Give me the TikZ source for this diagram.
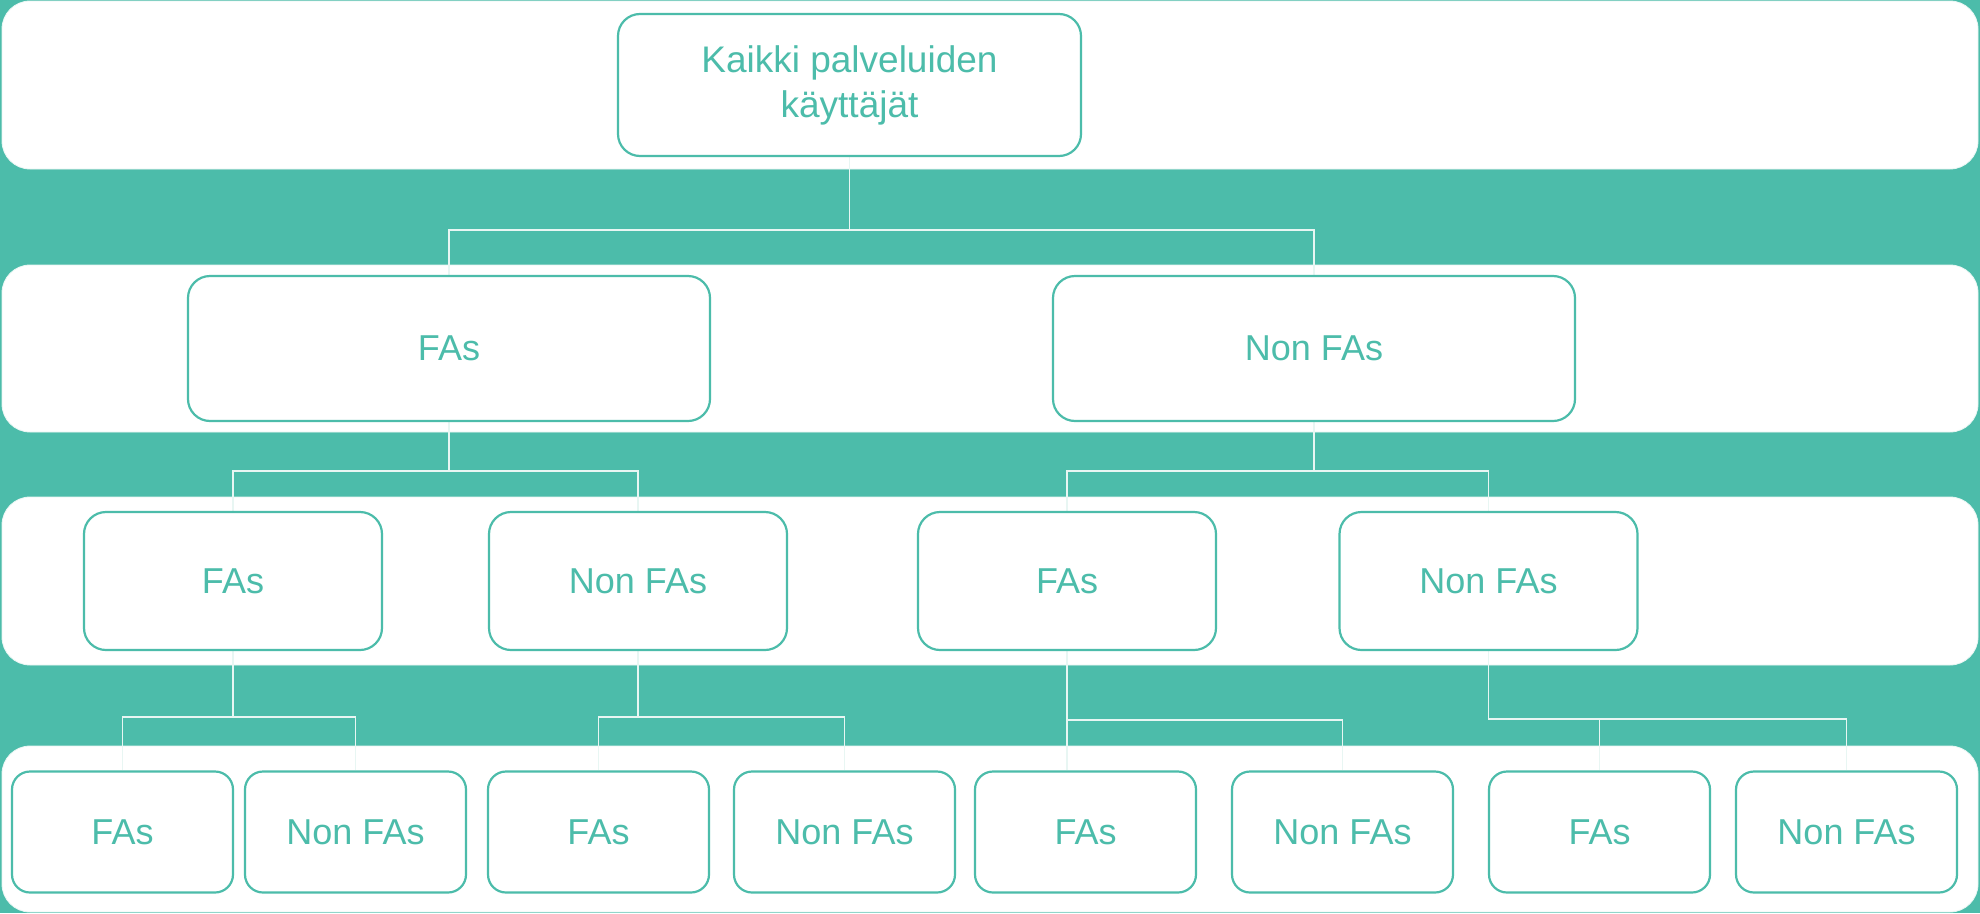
\documentclass[tikz,border=0pt]{standalone}
\usepackage{fontspec}
\setmainfont{Liberation Sans}
\definecolor{teal1}{HTML}{4CBCAA}
\definecolor{linkc}{HTML}{E8F6F3}
\pgfdeclarelayer{bands}
\pgfdeclarelayer{links}
\pgfsetlayers{bands,links,main}
\tikzset{
  band/.style={fill=white, draw=linkc, line width=0.8pt, rounded corners=28pt},
  box/.style={draw=teal1, line width=2.2pt, fill=white, rounded corners=22pt, text=teal1,
    font=\fontsize{36}{43}\selectfont, inner sep=0pt, align=center},
  lvlone/.style={box, minimum width=522pt, minimum height=145pt},
  lvltwo/.style={box, minimum width=298pt, minimum height=138pt},
  lvlthree/.style={box, minimum width=221pt, minimum height=121pt, rounded corners=18pt},
  link/.style={draw=linkc, line width=1.6pt}
}
\begin{document}
\begin{tikzpicture}[x=1pt, y=-1pt]
\useasboundingbox (0,0) rectangle (1980,913);
% nodes
\node[box, minimum width=463pt, minimum height=142pt, font=\fontsize{37}{45}\selectfont] (root) at (849.5,85) {Kaikki palveluiden\\käyttäjät};
\node[lvlone] (l2a) at (449,348.5) {FAs};
\node[lvlone] (l2b) at (1314,348.5) {Non FAs};
\node[lvltwo] (l3a) at (233,581) {FAs};
\node[lvltwo] (l3b) at (638,581) {Non FAs};
\node[lvltwo] (l3c) at (1067,581) {FAs};
\node[lvltwo] (l3d) at (1488.5,581) {Non FAs};
\node[lvlthree] (l4a) at (122.5,832) {FAs};
\node[lvlthree] (l4b) at (355.5,832) {Non FAs};
\node[lvlthree] (l4c) at (598.5,832) {FAs};
\node[lvlthree] (l4d) at (844.5,832) {Non FAs};
\node[lvlthree] (l4e) at (1085.5,832) {FAs};
\node[lvlthree] (l4f) at (1342.5,832) {Non FAs};
\node[lvlthree] (l4g) at (1599.5,832) {FAs};
\node[lvlthree] (l4h) at (1846.5,832) {Non FAs};
% background and bands
\begin{pgfonlayer}{bands}
\fill[teal1] (0,0) rectangle (1980,913);
\path[band] (2,1) rectangle (1978,169);
\path[band] (2,265) rectangle (1978,432);
\path[band] (2,497) rectangle (1978,665);
\path[band] (2,746) rectangle (1978,912);
\end{pgfonlayer}
% connectors
\begin{pgfonlayer}{links}
\coordinate (j1) at (849.5,230);
\coordinate (j2) at (449,471);
\coordinate (j3) at (1314,471);
\coordinate (j4) at (233,717);
\coordinate (j5) at (638,717);
\coordinate (j6) at (1067,720);
\coordinate (j7) at (1488.5,719);
\draw[link] (root.south) -- (j1);
\draw[link] (l2a.north) |- (j1) -| (l2b.north);
\draw[link] (l2a.south) -- (j2);
\draw[link] (l3a.north) |- (j2) -| (l3b.north);
\draw[link] (l2b.south) -- (j3);
\draw[link] (l3c.north) |- (j3) -| (l3d.north);
\draw[link] (l3a.south) -- (j4);
\draw[link] (l4a.north) |- (j4) -| (l4b.north);
\draw[link] (l3b.south) -- (j5);
\draw[link] (l4c.north) |- (j5) -| (l4d.north);
\draw[link] (l3c.south) -- (l3c.south |- l4e.north);
\draw[link] (j6) -| (l4f.north);
\draw[link] (l3d.south) -- (j7) -| (l4h.north);
\draw[link] (l4g.north) -- (l4g.north |- j7);
\end{pgfonlayer}
\end{tikzpicture}
\end{document}
